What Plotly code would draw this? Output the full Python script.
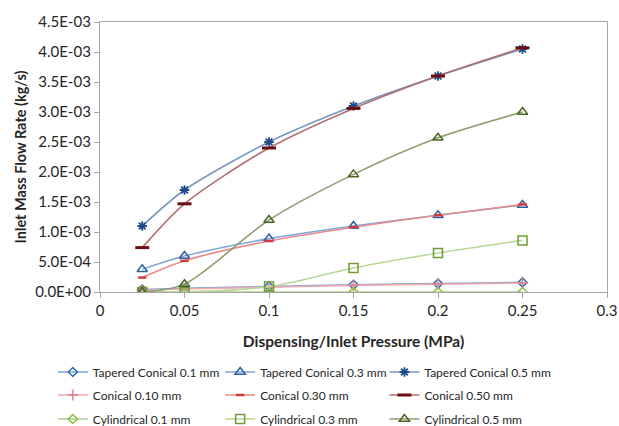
import plotly.graph_objects as go

# Dispensing/inlet pressure (MPa)
pressure = [0.025, 0.05, 0.1, 0.15, 0.2, 0.25]

# Inlet mass flow rate (kg/s) for each nozzle geometry
tapered_01 = [0.04e-3, 0.06e-3, 0.09e-3, 0.12e-3, 0.14e-3, 0.16e-3]
tapered_03 = [0.38e-3, 0.60e-3, 0.89e-3, 1.10e-3, 1.28e-3, 1.45e-3]
tapered_05 = [1.10e-3, 1.70e-3, 2.50e-3, 3.10e-3, 3.60e-3, 4.05e-3]
conical_01 = [0.03e-3, 0.05e-3, 0.08e-3, 0.11e-3, 0.13e-3, 0.15e-3]
conical_03 = [0.24e-3, 0.52e-3, 0.85e-3, 1.08e-3, 1.28e-3, 1.46e-3]
conical_05 = [0.74e-3, 1.47e-3, 2.40e-3, 3.06e-3, 3.60e-3, 4.07e-3]
cyl_01 = [0.0, 0.0, 0.0, 0.0, 0.0, 0.0]
cyl_03 = [0.0, 0.0, 0.09e-3, 0.40e-3, 0.65e-3, 0.86e-3]
cyl_05 = [0.0, 0.13e-3, 1.20e-3, 1.96e-3, 2.57e-3, 3.00e-3]

series_names = [
    "Tapered Conical 0.1 mm", "Tapered Conical 0.3 mm", "Tapered Conical 0.5 mm",
    "Conical 0.10 mm", "Conical 0.30 mm", "Conical 0.50 mm",
    "Cylindrical 0.1 mm", "Cylindrical 0.3 mm", "Cylindrical 0.5 mm",
]
series_values = [tapered_01, tapered_03, tapered_05,
                 conical_01, conical_03, conical_05,
                 cyl_01, cyl_03, cyl_05]

y_tick_vals = [0, 0.5e-3, 1.0e-3, 1.5e-3, 2.0e-3, 2.5e-3, 3.0e-3, 3.5e-3, 4.0e-3, 4.5e-3]
y_tick_text = ["0.0E+00", "5.0E-04", "1.0E-03", "1.5E-03", "2.0E-03",
               "2.5E-03", "3.0E-03", "3.5E-03", "4.0E-03", "4.5E-03"]
x_tick_vals = [0, 0.05, 0.1, 0.15, 0.2, 0.25, 0.3]
x_tick_text = ["0", "0.05", "0.1", "0.15", "0.2", "0.25", "0.3"]

# (line colour, marker colour, marker symbol, marker size, marker line width)
styles = [
    ("#7fa6d6", "#2f6db5", "diamond-open", 7, 1.5),
    ("#7fa6d6", "#2f5f9e", "triangle-up-open", 9, 1.5),
    ("#7896bf", "#1f4c86", "asterisk-open", 8, 1.8),
    ("#f2a9ae", "#e8808a", "cross-thin-open", 8, 1.5),
    ("#e98a8a", "#d23a3f", "line-ew-open", 6, 2.5),
    ("#b07070", "#6b0e12", "line-ew-open", 10, 3),
    ("#a9d18e", "#8dc045", "diamond-open", 7, 1.5),
    ("#b9d699", "#6f9c34", "square-open", 9, 1.5),
    ("#8e9f73", "#4a6424", "triangle-up-open", 9, 1.5),
]

# legend grid: three columns x three rows below the x-axis title (paper coords)
legend_cols = [-0.0930, 0.2370, 0.5610]
legend_rows = [-0.2963, -0.3815, -0.4704]

FONT = "Lato"
fig = go.Figure()
legend_layouts = {}
for i, (name, vals, (lc, mc, sym, ms, mlw)) in enumerate(zip(series_names, series_values, styles)):
    lg = "legend" if i == 0 else f"legend{i + 1}"
    legend_layouts[lg] = dict(
        orientation="h", x=legend_cols[i % 3], xanchor="left",
        y=legend_rows[i // 3], yanchor="middle",
        font=dict(family=FONT, size=12, color="#262626"),
        itemwidth=30, bgcolor="rgba(0,0,0,0)",
    )
    fig.add_trace(go.Scatter(
        x=pressure, y=vals, name=name, mode="lines+markers", legend=lg,
        line=dict(color=lc, width=1.6, shape="spline", smoothing=0.8),
        marker=dict(symbol=sym, size=ms, color=mc, line=dict(color=mc, width=mlw)),
    ))

axis_common = dict(
    showline=True, linecolor="#a6a6a6", linewidth=1.3, mirror=True,
    showgrid=False, zeroline=False, ticks="outside", ticklen=5,
    tickcolor="#a6a6a6", tickwidth=1.3,
    tickfont=dict(family=FONT, size=15, color="#262626"),
)

fig.update_layout(
    width=619, height=426,
    margin=dict(l=100, r=12, t=22, b=134, autoexpand=False),
    paper_bgcolor="white", plot_bgcolor="white",
    xaxis=dict(range=[0, 0.3], tickvals=x_tick_vals, ticktext=x_tick_text,
               title=dict(text="<b>Dispensing/Inlet Pressure (MPa)</b>",
                          font=dict(family=FONT, size=15.5, color="#262626"),
                          standoff=17),
               **axis_common),
    yaxis=dict(range=[0, 4.5e-3], tickvals=y_tick_vals, ticktext=y_tick_text,
               title=dict(text="<b>Inlet Mass Flow Rate (kg/s)</b>",
                          font=dict(family=FONT, size=14.5, color="#262626"),
                          standoff=5),
               **axis_common),
    showlegend=True,
    **legend_layouts,
)

fig.write_html("out.html")
